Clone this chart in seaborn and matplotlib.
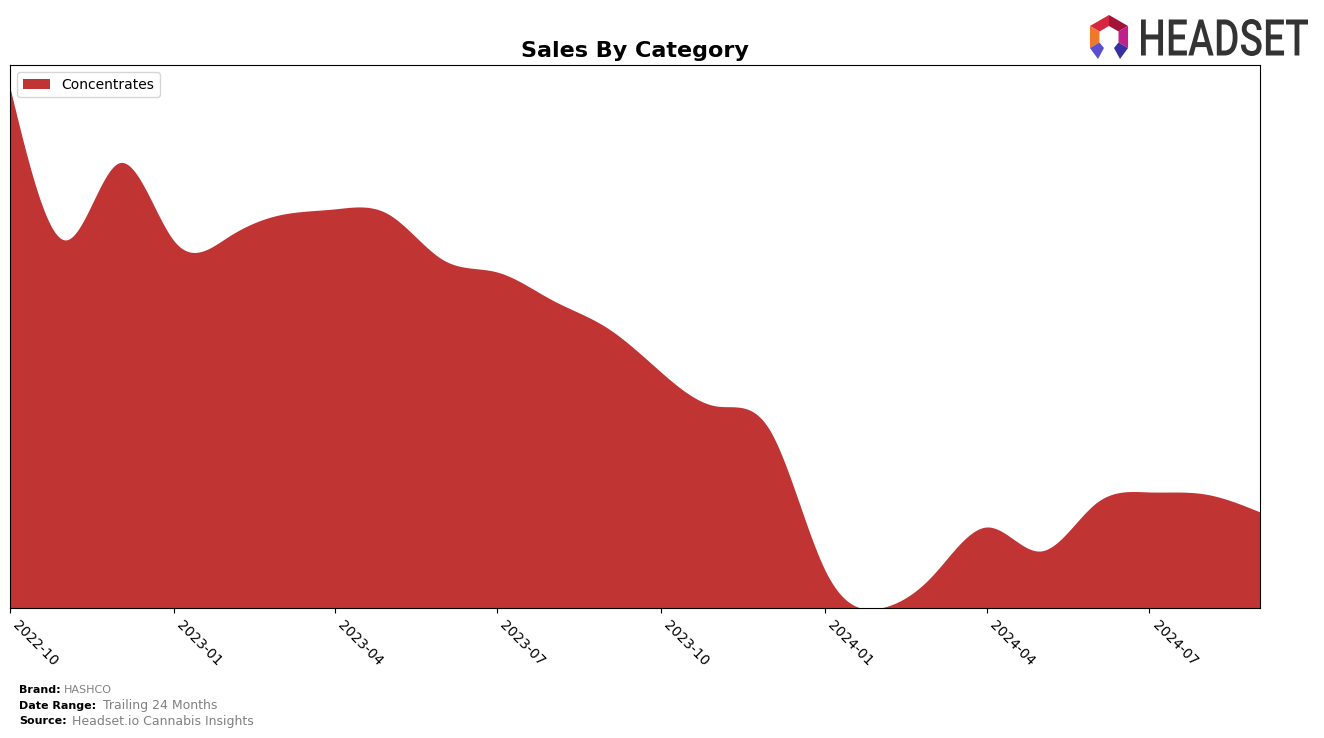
import numpy as np
import pandas as pd
import matplotlib
matplotlib.use("Agg")
import matplotlib.pyplot as plt
import matplotlib.dates as mdates
from matplotlib.patches import Polygon, PathPatch
from matplotlib.textpath import TextPath
from matplotlib.font_manager import FontProperties
from matplotlib.transforms import Affine2D, IdentityTransform
import seaborn as sns

# monthly sales for the brand (relative units)
months = pd.date_range("2022-10-01", "2024-09-01", freq="MS")
concentrates = [520, 368, 445, 367, 372, 393, 399, 394, 348, 336, 308, 280,
                236, 202, 178, 38, 0, 32, 81, 57, 105, 116, 114, 96]
category = "Concentrates"
fill_color = "#c13434"


def natural_spline(x, y, x_new):
    # plain natural cubic spline, only used to smooth the drawn area
    x = np.asarray(x, float)
    y = np.asarray(y, float)
    n = len(x)
    h = np.diff(x)
    A = np.zeros((n, n))
    rhs = np.zeros(n)
    A[0, 0] = 1
    A[-1, -1] = 1
    for i in range(1, n - 1):
        A[i, i - 1] = h[i - 1]
        A[i, i] = 2 * (h[i - 1] + h[i])
        A[i, i + 1] = h[i]
        rhs[i] = 6 * ((y[i + 1] - y[i]) / h[i] - (y[i] - y[i - 1]) / h[i - 1])
    M = np.linalg.solve(A, rhs)
    idx = np.clip(np.searchsorted(x, x_new) - 1, 0, n - 2)
    x0, x1 = x[idx], x[idx + 1]
    hh = x1 - x0
    return (M[idx] * (x1 - x_new) ** 3 / (6 * hh)
            + M[idx + 1] * (x_new - x0) ** 3 / (6 * hh)
            + (y[idx] / hh - M[idx] * hh / 6) * (x1 - x_new)
            + (y[idx + 1] / hh - M[idx + 1] * hh / 6) * (x_new - x0))


sns.set_style("white", rc={
    "axes.edgecolor": "black",
    "axes.linewidth": 0.8,
    "text.color": "black",
    "axes.labelcolor": "black",
    "xtick.bottom": True,
    "xtick.color": "black",
    "xtick.major.size": 3.5,
    "xtick.major.width": 0.8,
})
plt.rcParams["font.family"] = ["DejaVu Sans"]

df = pd.DataFrame({"month": months, "sales": concentrates})
days = (df["month"] - df["month"].iloc[0]).dt.days.to_numpy()
fine_days = np.linspace(days[0], days[-1], 1500)
smooth = np.clip(natural_spline(days, df["sales"], fine_days), 0, None)
fine_dates = df["month"].iloc[0] + pd.to_timedelta(fine_days, unit="D")

fig = plt.figure(figsize=(13.24, 7.38), dpi=100)
ax = fig.add_axes([10 / 1324, 1 - 608 / 738, 1250 / 1324, 543 / 738])

ax.fill_between(fine_dates, 0, smooth, color=fill_color, linewidth=0, label=category)
ax.set_xlim(months[0], months[-1])
ax.set_ylim(0, max(concentrates) * 1.044)
ax.set_yticks([])
ax.xaxis.set_major_locator(mdates.MonthLocator(bymonth=[1, 4, 7, 10]))
ax.xaxis.set_major_formatter(mdates.DateFormatter("%Y-%m"))
plt.setp(ax.get_xticklabels(), rotation=-45, ha="left", fontsize=10)
ax.set_xlabel("")
ax.set_ylabel("")
ax.set_title("Sales By Category", fontsize=16, fontweight="bold", pad=6)
ax.legend(loc="upper left", fontsize=10, frameon=True, handlelength=2)

# footer
fig.text(19 / 1324, 1 - 690 / 738, "Brand:", fontsize=8, fontweight="bold", va="center")
fig.text(64 / 1324, 1 - 690 / 738, "HASHCO", fontsize=8, color="grey", va="center")
fig.text(19 / 1324, 1 - 706 / 738, "Date Range:", fontsize=8, fontweight="bold", va="center")
fig.text(103 / 1324, 1 - 706 / 738, "Trailing 24 Months", fontsize=9, color="grey", va="center")
fig.text(19 / 1324, 1 - 721 / 738, "Source:", fontsize=8, fontweight="bold", va="center")
fig.text(72 / 1324, 1 - 721 / 738, "Headset.io Cannabis Insights", fontsize=9, color="grey", va="center")

# logo: word mark squeezed into its box
tp = TextPath((0, 0), "HEADSET", size=50, prop=FontProperties(family="Roboto", weight="medium"))
ext = tp.get_extents()
x0, x1, ytop, ybot = 1141, 1308, 19, 56
sx = (x1 - x0) / ext.width
sy = (ybot - ytop) / ext.height
tr = Affine2D().translate(-ext.x0, -ext.y0).scale(sx, sy).translate(x0, 738 - ybot)
fig.patches.append(PathPatch(tr.transform_path(tp), facecolor="#333333", edgecolor="none",
                             transform=IdentityTransform(), figure=fig))

# logo: hexagon ring with two legs
cx, cy, R, r = 1109, 738 - 37, 22, 11


def pt(rad, ang):
    a = np.radians(ang)
    return (cx + rad * np.cos(a), cy + rad * np.sin(a))


def piece(pts, color):
    fig.patches.append(Polygon(pts, closed=True, facecolor=color, edgecolor="none",
                               transform=IdentityTransform(), figure=fig))


piece([pt(R, 90), pt(R, 150), pt(r, 150), pt(r, 90)], "#d7263d")
piece([pt(R, 30), pt(R, 90), pt(r, 90), pt(r, 30)], "#a3133a")
piece([pt(R, 150), pt(R, 210), pt(r, 210), pt(r, 150)], "#f0782a")
piece([pt(R, -30), pt(R, 30), pt(r, 30), pt(r, -30)], "#c0208a")
piece([pt(R, 210), (cx - 11, cy - 22), (cx - 5, cy - 11), pt(r, 210)], "#5a4fcf")
piece([pt(R, 330), (cx + 11, cy - 22), (cx + 5, cy - 11), pt(r, 330)], "#3730a3")

fig.savefig("out.png", dpi=100)
